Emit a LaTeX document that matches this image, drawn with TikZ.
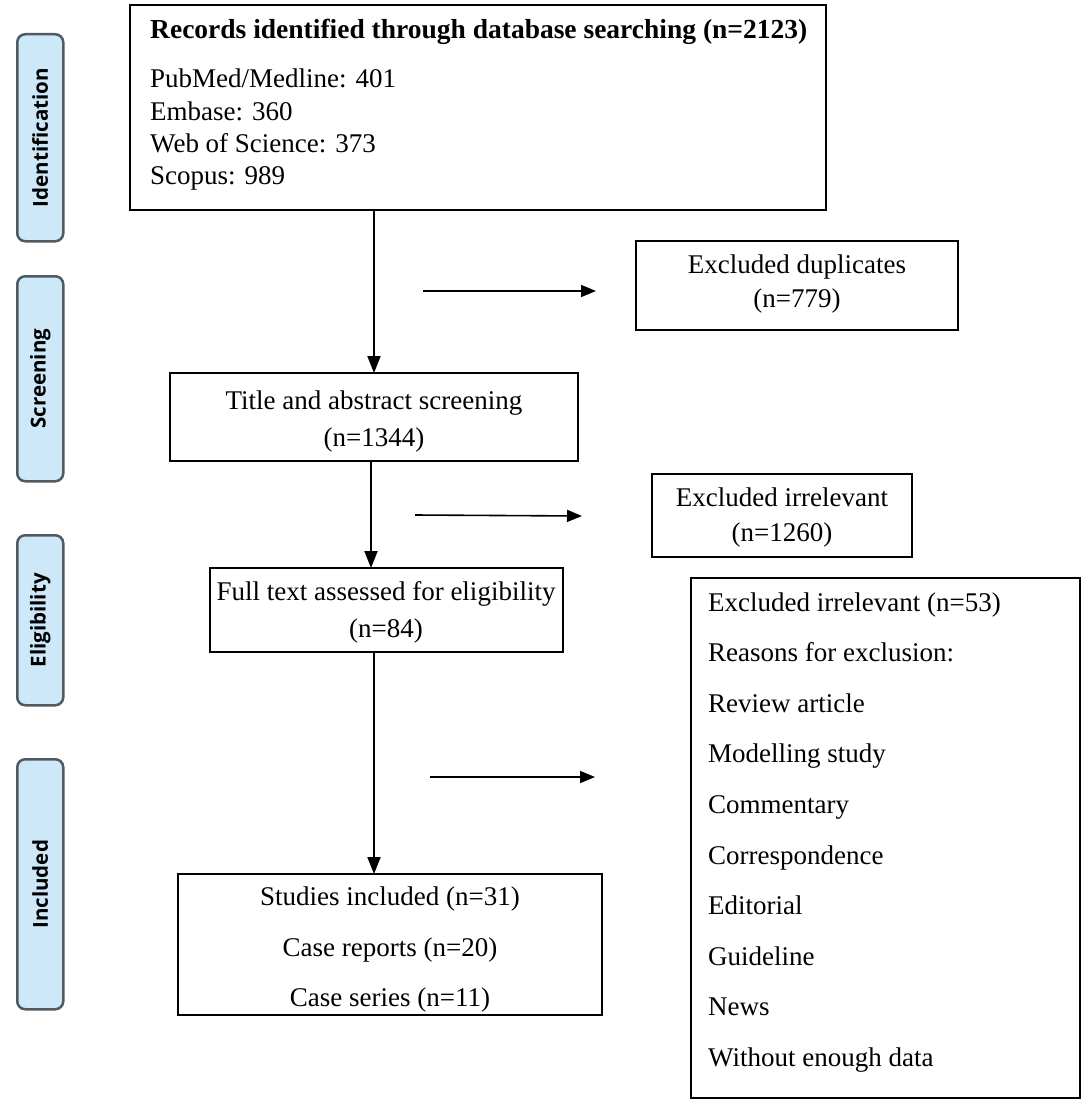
\documentclass[tikz,border=0pt]{standalone}
\usepackage{fontspec}
\setmainfont{Liberation Serif}
\newfontfamily\sidefont{Open Sans}
\usetikzlibrary{arrows.meta,calc}
\definecolor{sidefill}{HTML}{CDE8F8}
\definecolor{sideline}{HTML}{505A60}
\tikzset{
  box/.style={draw=black, line width=2pt, anchor=north west, inner sep=0pt, outer sep=0pt},
  sidebox/.style={draw=sideline, fill=sidefill, line width=2.5pt, rounded corners=8pt, anchor=north west, inner sep=0pt, minimum width=46pt},
  sidetxt/.style={rotate=90, font=\sidefont\bfseries\fontsize{20.5}{24}\selectfont, inner sep=0pt},
  txt/.style={font=\fontsize{27}{32}\selectfont, inner sep=0pt, anchor=base},
  ltxt/.style={txt, anchor=base west},
  vflow/.style={line width=2pt, -{Triangle[length=17pt,width=13pt]}},
  hflow/.style={line width=1.6pt, -{Triangle[length=15pt,width=12pt]}}
}
\begin{document}
\begin{tikzpicture}[x=1pt,y=-1pt]
\useasboundingbox (0,0) rectangle (1084,1108);
% side labels
\node[sidebox, minimum height=207pt] (sid) at (16,33) {};
\node[sidetxt] (sidt) at (sid.center) {Identification};
\node[sidebox, minimum height=205pt] (sscr) at (16,275) {};
\node[sidetxt] (sscrt) at (sscr.center) {Screening};
\node[sidebox, minimum height=170pt] (selig) at (16,534) {};
\node[sidetxt] (seligt) at (selig.center) {Eligibility};
\node[sidebox, minimum height=250pt] (sinc) at (16,758) {};
\node[sidetxt] (sinct) at (sinc.center) {Included};
% records
\node[box, minimum width=696pt, minimum height=205pt] (rec) at (130,5) {};
\node[ltxt, font=\bfseries\fontsize{27.5}{32}\selectfont] (rec0) at (150,39) {Records identified through database searching (n=2123)};
\node[ltxt] (rec1) at (150,87) {PubMed/Medline: 401};
\node[ltxt] (rec2) at (150,120) {Embase: 360};
\node[ltxt] (rec3) at (150,152) {Web of Science: 373};
\node[ltxt] (rec4) at (150,184) {Scopus: 989};
% duplicates
\node[box, minimum width=322pt, minimum height=89pt] (dup) at (636,241) {};
\node[txt] (dup1) at (797,273) {Excluded duplicates};
\node[txt] (dup2) at (797,307) {(n=779)};
% title screening
\node[box, minimum width=408pt, minimum height=88pt] (tit) at (170,373) {};
\node[txt] (tit1) at (374,409) {Title and abstract screening};
\node[txt] (tit2) at (374,446) {(n=1344)};
% irrelevant
\node[box, minimum width=260pt, minimum height=83pt] (irr) at (652,474) {};
\node[txt] (irr1) at (782,506) {Excluded irrelevant};
\node[txt] (irr2) at (782,541) {(n=1260)};
% full text
\node[box, minimum width=353pt, minimum height=84pt] (full) at (210,568) {};
\node[txt] (full1) at (386,600) {Full text assessed for eligibility};
\node[txt] (full2) at (386,637) {(n=84)};
% included
\node[box, minimum width=424pt, minimum height=141pt] (inc) at (178,874) {};
\node[txt] (inc1) at (390,905) {Studies included (n=31)};
\node[txt] (inc2) at (390,956) {Case reports (n=20)};
\node[txt] (inc3) at (390,1006) {Case series (n=11)};
% excluded list
\node[box, minimum width=389pt, minimum height=520pt] (exc) at (691,578) {};
\foreach \t [count=\i from 0] in {Excluded irrelevant (n=53),Reasons for exclusion:,Review article,Modelling study,Commentary,Correspondence,Editorial,Guideline,News,Without enough data}
  \node[ltxt] (exc\i) at (708,{611+\i*50.6}) {\t};
% connectors
\draw[vflow] (tit.north |- rec.south) -- (tit.north);
\draw[vflow] ($(tit.south)+(-3,0)$) -- ($(tit.south |- full.north)+(-3,0)$);
\coordinate (a3) at (374,652);
\draw[vflow] (a3) -- (a3 |- inc.north);
\coordinate (h1s) at (423,291);
\coordinate (h1e) at (596,291);
\draw[hflow] (h1s) -- (h1e);
\coordinate (h2s) at (415,515);
\coordinate (h2e) at (582,516);
\draw[hflow] (h2s) -- (h2e);
\coordinate (h3s) at (430,777);
\coordinate (h3e) at (595,777);
\draw[hflow] (h3s) -- (h3e);
\end{tikzpicture}
\end{document}
